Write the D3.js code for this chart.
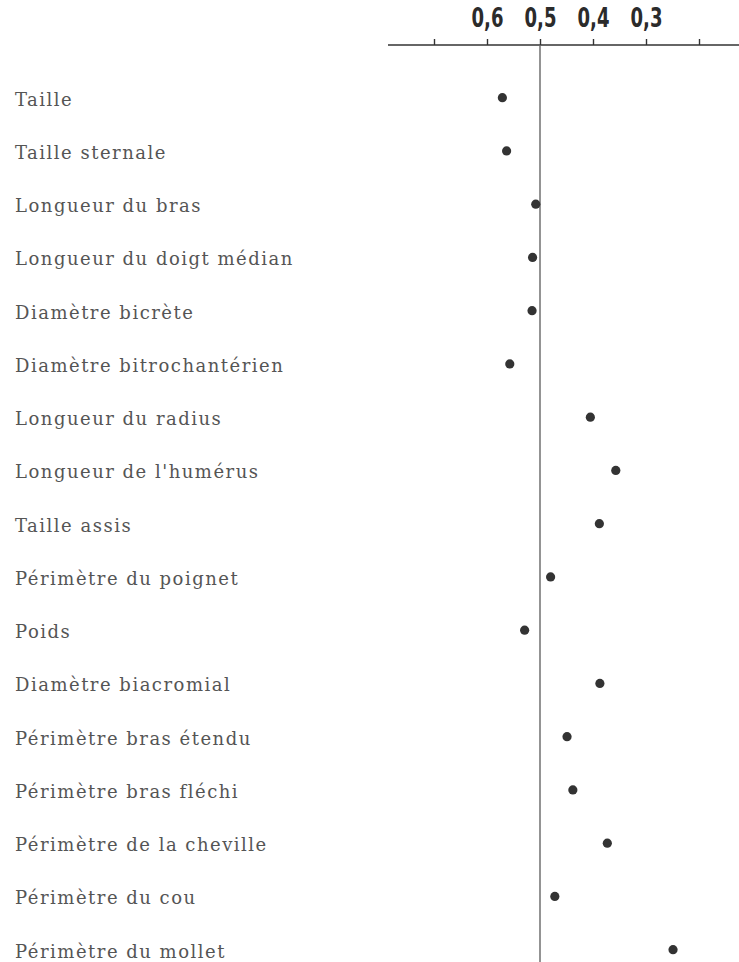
<!DOCTYPE html>
<html>
<head>
<meta charset="utf-8">
<script src="https://cdn.jsdelivr.net/npm/d3@7"></script>
<style>
  html, body { margin: 0; padding: 0; background: #fff; }
  svg { display: block; }
</style>
</head>
<body>
<svg id="chart" width="739" height="962"></svg>
<script>
// Anthropometric measures and their coefficients
const measures = [
  "Taille",
  "Taille sternale",
  "Longueur du bras",
  "Longueur du doigt médian",
  "Diamètre bicrète",
  "Diamètre bitrochantérien",
  "Longueur du radius",
  "Longueur de l'humérus",
  "Taille assis",
  "Périmètre du poignet",
  "Poids",
  "Diamètre biacromial",
  "Périmètre bras étendu",
  "Périmètre bras fléchi",
  "Périmètre de la cheville",
  "Périmètre du cou",
  "Périmètre du mollet"
];
const coefficients = [
  0.571, 0.563, 0.508, 0.514, 0.515, 0.557,
  0.405, 0.357, 0.388, 0.480, 0.529, 0.387,
  0.449, 0.438, 0.373, 0.472, 0.249
];
const tickValues = [0.7, 0.6, 0.5, 0.4, 0.3, 0.2];
const labelledTicks = [0.6, 0.5, 0.4, 0.3];
const referenceValue = 0.5;

const svg = d3.select("#chart");
const W = 739, H = 962;

// Reversed scale: larger coefficients to the left
const x = d3.scaleLinear().domain([0.5, 0.2]).range([540, 699]);
const y = d3.scalePoint().domain(measures).range([97.7, 949.7]);

const axisY = 45;

// Top axis
const isLabelled = d => labelledTicks.some(v => Math.abs(v - d) < 1e-9);
const axis = d3.axisTop(x)
  .tickValues(tickValues)
  .tickSize(6)
  .tickPadding(12)
  .tickFormat(d => isLabelled(d) ? d3.format(".1f")(d).replace(".", ",") : "");

const gAxis = svg.append("g")
  .attr("transform", `translate(0,${axisY})`)
  .call(axis);
gAxis.select(".domain").remove();
gAxis.selectAll(".tick line").attr("stroke", "#333").attr("stroke-width", 1.4);
gAxis.selectAll(".tick text")
  .attr("fill", "#2b2b2b")
  .attr("textLength", d => isLabelled(d) ? 32 : null)
  .attr("lengthAdjust", "spacingAndGlyphs")
  .style("font-family", "'DejaVu Sans Condensed', 'DejaVu Sans', sans-serif")
  .style("font-weight", "bold")
  .style("font-size", "27px");

svg.append("line")
  .attr("x1", 388).attr("x2", W)
  .attr("y1", axisY).attr("y2", axisY)
  .attr("stroke", "#333").attr("stroke-width", 1.4);

// Reference line at 0.5
svg.append("line")
  .attr("x1", x(referenceValue)).attr("x2", x(referenceValue))
  .attr("y1", axisY).attr("y2", H)
  .attr("stroke", "#666").attr("stroke-width", 1.4);

// Row labels
svg.append("g").selectAll("text")
  .data(measures)
  .join("text")
  .attr("x", 15)
  .attr("y", d => y(d) + 8)
  .attr("fill", "#555")
  .style("font-family", "'DejaVu Serif', serif")
  .style("font-size", "18px")
  .style("letter-spacing", "1.5px")
  .text(d => d);

// Dots
svg.append("g").selectAll("circle")
  .data(measures.map((m, i) => ({ m, v: coefficients[i] })))
  .join("circle")
  .attr("cx", d => x(d.v))
  .attr("cy", d => y(d.m))
  .attr("r", 4.6)
  .attr("fill", "#333");
</script>
</body>
</html>
